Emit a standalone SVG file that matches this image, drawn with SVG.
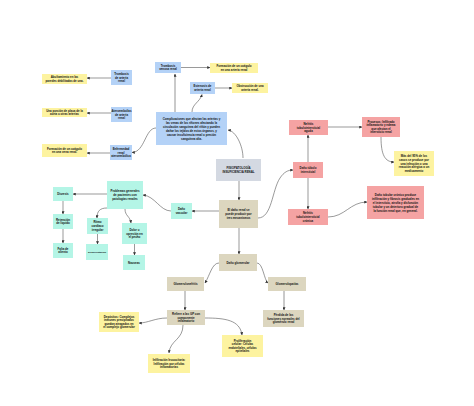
<svg xmlns="http://www.w3.org/2000/svg" width="474" height="406" viewBox="0 0 474 406">
<style>
text{font-family:"Liberation Sans",Arial,sans-serif;font-size:2.9px;font-weight:bold;fill:#111;text-anchor:middle}
.b{fill:#b4d2f7}.y{fill:#fdf3a0}.r{fill:#f5a3a3}.t{fill:#b4f5e6}.g{fill:#d4d9e2}.n{fill:#dcd6bf}
#connectors path{fill:none;stroke:#555;stroke-width:0.6;marker-end:url(#a)}
#connectors path.v{stroke:#888;stroke-width:0.9}
</style>
<defs>
<marker id="a" viewBox="0 0 6 6" refX="5.5" refY="3" markerWidth="3" markerHeight="3" markerUnits="userSpaceOnUse" orient="auto"><path d="M0,0L6,3L0,6z" fill="#333"/></marker>
</defs>
<rect width="474" height="406" fill="#fff"/>
<g id="connectors">
<path class="v" d="M175,112L175,74"/>
<path d="M181,67.5L210,67.5"/>
<path d="M192,112C192,104 200,102 202,94.5"/>
<path d="M215,88L232,88"/>
<path d="M156,128C145,128 145,152 132,152.5"/>
<path d="M111,78L87,78"/>
<path d="M111,113L87,113"/>
<path d="M110,153L87,153"/>
<path d="M243,158C243,146 236,131 228,130"/>
<path d="M239,181L239,200"/>
<path d="M219,211L192,211"/>
<path d="M258,218C272,218 272,190 280,178C284,172 288,170 293,170"/>
<path d="M308,162L308,135"/>
<path d="M308,178L308,209"/>
<path d="M328,127L362,127"/>
<path d="M381,137C381,155 385,162 394,162"/>
<path d="M328,217C345,217 350,202 367,202"/>
<path d="M171,211C160,211 155,196 143,195"/>
<path d="M107,194L73,194"/>
<path d="M63,201L63,214"/>
<path d="M63,229L63,243"/>
<path d="M107,208C100,208 97,211 97,218"/>
<path d="M125,209C125,216 130,216 131,223"/>
<path d="M97.5,234L97.5,244"/>
<path d="M134.5,244L134.5,255"/>
<path d="M239,228L239,254"/>
<path d="M219,263C212,263 210,275 205,283"/>
<path d="M257,263C263,263 264,280 268,283"/>
<path class="v" d="M185,291L185,310"/>
<path class="v" d="M284,291L284,310"/>
<path d="M167,318C155,318 148,323 139,323"/>
<path d="M183,325C183,340 170,340 169,353"/>
<path d="M205,318C225,318 240,320 242,335"/>
</g>
<g id="n-trombosis-venosa"><rect class="b" x="155" y="62" width="26" height="11"/><text x="168" y="66.75">Trombosis</text><text x="168" y="70.35">venosa renal</text></g>
<g id="n-formacion-arteria"><rect class="y" x="210" y="63" width="48" height="10"/><text x="234" y="67.25">Formación de un coágulo</text><text x="234" y="70.85">en una arteria renal</text></g>
<g id="n-estenosis"><rect class="b" x="190" y="82" width="25" height="12"/><text x="202.5" y="87.25">Estenosis de</text><text x="202.5" y="90.85">arteria renal</text></g>
<g id="n-obstruccion"><rect class="y" x="232" y="83" width="36" height="10"/><text x="250" y="87.25">Obstrucción de una</text><text x="250" y="90.85">arteria renal.</text></g>
<g id="n-complicaciones"><rect class="b" x="156" y="112" width="71" height="33"/><text x="191.5" y="119.55">Complicaciones que afectan las arterias y</text><text x="191.5" y="123.55">las venas de los riñones afectando la</text><text x="191.5" y="127.55">circulación sanguínea del riñón y pueden</text><text x="191.5" y="131.55">dañar los tejidos de estos órganos, y</text><text x="191.5" y="135.55">causar insuficiencia renal o presión</text><text x="191.5" y="139.55">sanguínea alta.</text></g>
<g id="n-trombosis-arteria"><rect class="b" x="111" y="70" width="21" height="15"/><text x="121.5" y="74.95">Trombosis</text><text x="121.5" y="78.55">de arteria</text><text x="121.5" y="82.15">renal</text></g>
<g id="n-abultamiento"><rect class="y" x="42" y="74" width="45" height="10"/><text x="64.5" y="78.25">Abultamiento en las</text><text x="64.5" y="81.85">paredes debilitadas de una.</text></g>
<g id="n-ateroembolias"><rect class="b" x="111" y="107" width="21" height="15"/><text x="121.5" y="111.95">Ateroembolias</text><text x="121.5" y="115.55">de arteria</text><text x="121.5" y="119.15">renal</text></g>
<g id="n-porcion"><rect class="y" x="42" y="108" width="45" height="9"/><text x="64.5" y="111.75">Una porción de placa de la</text><text x="64.5" y="115.35">aorta u otras arterias</text></g>
<g id="n-enfermedad"><rect class="b" x="110" y="145" width="22" height="15"/><text x="121" y="149.95">Enfermedad</text><text x="121" y="153.55">renal</text><text x="121" y="157.15">ateroembólica</text></g>
<g id="n-formacion-vena"><rect class="y" x="42" y="144" width="45" height="13"/><text x="64.5" y="149.75">Formación de un coágulo</text><text x="64.5" y="153.35">en una vena renal.</text></g>
<g id="n-fisiopatologia"><rect class="g" x="216" y="159" width="45" height="22"/><text x="238.5" y="169.25">FISIOPATOLOGÍA</text><text x="238.5" y="172.85">INSUFICIENCIA RENAL</text></g>
<g id="n-dano-renal"><rect class="n" x="219" y="200" width="39" height="28"/><text x="238.5" y="211.45">El daño renal se</text><text x="238.5" y="215.05">puede producir por</text><text x="238.5" y="218.65">tres mecanismos</text></g>
<g id="n-nefritis-aguda"><rect class="r" x="289" y="120" width="39" height="15"/><text x="308.5" y="124.95">Nefritis</text><text x="308.5" y="128.55">tubulointersticial</text><text x="308.5" y="132.15">aguda</text></g>
<g id="n-procesos"><rect class="r" x="362" y="117" width="38" height="20"/><text x="381" y="122.65">Procesos: Infiltrado</text><text x="381" y="126.25">inflamatorio y edema</text><text x="381" y="129.85">que afectan el</text><text x="381" y="133.45">intersticio renal</text></g>
<g id="n-mas95"><rect class="y" x="394" y="151" width="40" height="25"/><text x="414" y="157.35">Más del 95% de los</text><text x="414" y="160.95">casos se produce por</text><text x="414" y="164.55">una infección o una</text><text x="414" y="168.15">reacción alérgica a un</text><text x="414" y="171.75">medicamento</text></g>
<g id="n-dano-tubulo"><rect class="r" x="293" y="162" width="30" height="16"/><text x="308" y="169.25">Daño túbulo</text><text x="308" y="172.85">intersticial</text></g>
<g id="n-nefritis-cronica"><rect class="r" x="288" y="209" width="40" height="16"/><text x="308" y="214.45">Nefritis</text><text x="308" y="218.05">tubulointersticial</text><text x="308" y="221.65">crónica</text></g>
<g id="n-dano-tubular-cronico"><rect class="r" x="367" y="186" width="57" height="33"/><text x="395.5" y="195.55">Daño tubular crónico produce</text><text x="395.5" y="199.55">infiltración y fibrosis graduales en</text><text x="395.5" y="203.55">el intersticio, atrofia y disfunción</text><text x="395.5" y="207.55">tubular y un deterioro gradual de</text><text x="395.5" y="211.55">la función renal que, en general.</text></g>
<g id="n-diuresis"><rect class="t" x="53" y="187" width="20" height="14"/><text x="63" y="195.05">Diuresis</text></g>
<g id="n-problemas"><rect class="t" x="107" y="181" width="36" height="28"/><text x="125" y="192.45">Problemas generales</text><text x="125" y="196.05">de pacientes con</text><text x="125" y="199.65">patologías renales</text></g>
<g id="n-dano-vascular"><rect class="t" x="171" y="203" width="21" height="16"/><text x="181.5" y="210.25">Daño</text><text x="181.5" y="213.85">vascular</text></g>
<g id="n-retencion"><rect class="t" x="53" y="214" width="20" height="15"/><text x="63" y="220.75">Retención</text><text x="63" y="224.35">de líquido</text></g>
<g id="n-falta"><rect class="t" x="53" y="243" width="20" height="15"/><text x="63" y="249.75">Falta de</text><text x="63" y="253.35">aliento</text></g>
<g id="n-ritmo"><rect class="t" x="87" y="218" width="21" height="16"/><text x="97.5" y="223.45">Ritmo</text><text x="97.5" y="227.05">cardíaco</text><text x="97.5" y="230.65">irregular</text></g>
<g id="n-desorientacion"><rect class="t" x="86" y="244" width="22" height="16"/><text x="97" y="253" style="font-size:2.5px">Desorientación</text></g>
<g id="n-dolor"><rect class="t" x="122" y="223" width="25" height="21"/><text x="134.5" y="230.95">Dolor u</text><text x="134.5" y="234.55">opresión en</text><text x="134.5" y="238.15">el pecho</text></g>
<g id="n-nauseas"><rect class="t" x="123" y="255" width="22" height="15"/><text x="134" y="263.55">Nauseas</text></g>
<g id="n-dano-glomerular"><rect class="n" x="219" y="254" width="38" height="17"/><text x="238" y="263.55">Daño glomerular</text></g>
<g id="n-glomerulonefritis"><rect class="n" x="167" y="277" width="37" height="14"/><text x="185.5" y="285.05">Glomerulonefritis</text></g>
<g id="n-glomerulopatias"><rect class="n" x="268" y="277" width="38" height="14"/><text x="287" y="285.05">Glomerulopatías</text></g>
<g id="n-refiere"><rect class="n" x="167" y="310" width="38" height="15"/><text x="186" y="314.95">Refiere a las GP con</text><text x="186" y="318.55">componente</text><text x="186" y="322.15">inflamatorio</text></g>
<g id="n-perdida"><rect class="n" x="263" y="310" width="41" height="17"/><text x="283.5" y="315.95">Pérdida de las</text><text x="283.5" y="319.55">funciones normales del</text><text x="283.5" y="323.15">glomérulo renal</text></g>
<g id="n-proliferacion"><rect class="y" x="222" y="335" width="41" height="22"/><text x="242.5" y="341.65">Proliferación</text><text x="242.5" y="345.25">celular: Células</text><text x="242.5" y="348.85">endoteliales, células</text><text x="242.5" y="352.45">epiteliales</text></g>
<g id="n-infiltracion"><rect class="y" x="148" y="354" width="42" height="19"/><text x="169" y="360.95">Infiltración leucocitaria:</text><text x="169" y="364.55">Infiltración por células</text><text x="169" y="368.15">inflamatorias</text></g>
<g id="n-depositos"><rect class="y" x="99" y="312" width="40" height="20"/><text x="119" y="317.65">Depósitos: Complejos</text><text x="119" y="321.25">inmunes precipitados</text><text x="119" y="324.85">quedan atrapados en</text><text x="119" y="328.45">el complejo glomerular</text></g>
</svg>
